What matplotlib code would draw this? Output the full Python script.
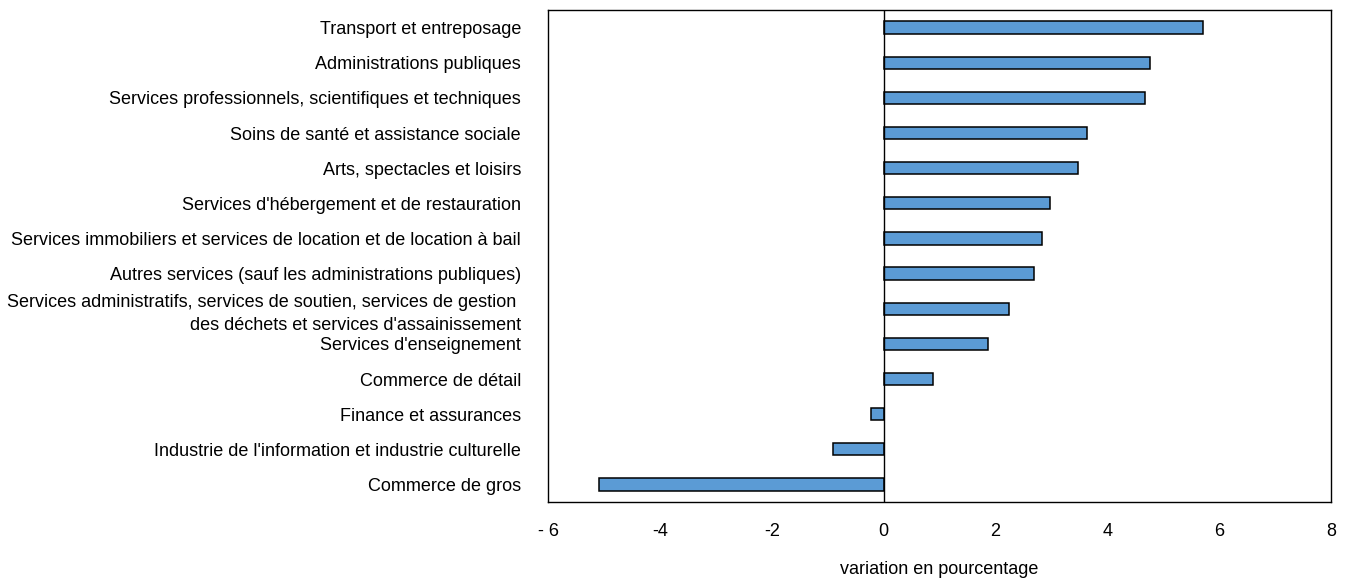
import matplotlib.pyplot as plt
from matplotlib import font_manager

# police condensee si disponible
noms = [f.name for f in font_manager.fontManager.ttflist]
if "Liberation Sans Narrow" in noms:
    plt.rcParams["font.family"] = ["Liberation Sans Narrow", "DejaVu Sans"]
else:
    plt.rcParams["font.family"] = ["Liberation Sans", "DejaVu Sans"]

industries = [
    "Transport et entreposage",
    "Administrations publiques",
    "Services professionnels, scientifiques et techniques",
    "Soins de santé et assistance sociale",
    "Arts, spectacles et loisirs",
    "Services d'hébergement et de restauration",
    "Services immobiliers et services de location et de location à bail",
    "Autres services (sauf les administrations publiques)",
    "Services administratifs, services de soutien, services de gestion \ndes déchets et services d'assainissement",
    "Services d'enseignement",
    "Commerce de détail",
    "Finance et assurances",
    "Industrie de l'information et industrie culturelle",
    "Commerce de gros",
]
variation = [5.71, 4.76, 4.68, 3.64, 3.48, 2.97, 2.83, 2.69, 2.24, 1.86, 0.88, -0.23, -0.90, -5.08]

xticks = [-6, -4, -2, 0, 2, 4, 6, 8]
xticklabels = ["- 6", "-4", "-2", "0", "2", "4", "6", "8"]

fig = plt.figure(figsize=(13.48, 5.79), dpi=100)
ax = fig.add_axes([548 / 1348, 77 / 579, 783 / 1348, 492 / 579])

pos = list(range(len(industries)))
ax.barh(pos, variation, height=0.35, color="#5B9BD5", edgecolor="black", linewidth=1.1, zorder=2)
ax.axvline(0, color="black", linewidth=1, zorder=3)

ax.set_xlim(-6, 8)
ax.set_ylim(13.5, -0.5)
ax.set_xticks(xticks)
ax.set_xticklabels(xticklabels)
ax.set_yticks(pos)
ax.set_yticklabels(industries)
for lab in ax.get_yticklabels():
    lab.set_linespacing(1.5)
ax.tick_params(axis="both", length=0, labelsize=13)
ax.tick_params(axis="x", pad=15)
ax.tick_params(axis="y", pad=19.5)
for s in ax.spines.values():
    s.set_linewidth(1)
ax.set_xlabel("variation en pourcentage", fontsize=13, labelpad=15)

fig.savefig("out.png", dpi=100)
